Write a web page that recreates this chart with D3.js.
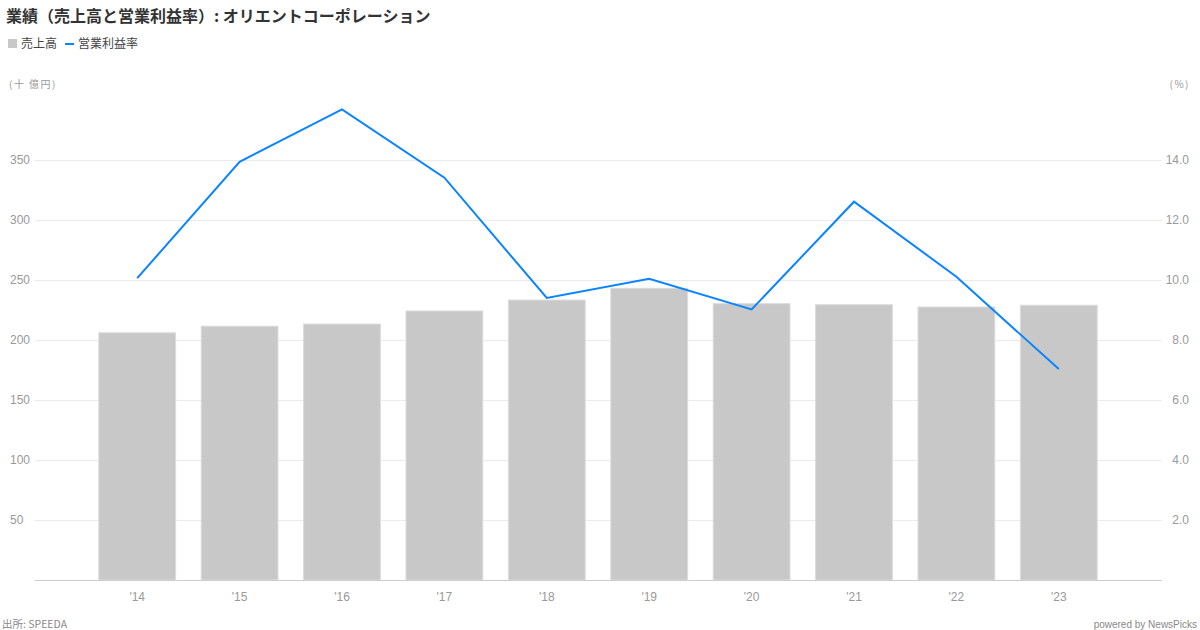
<!DOCTYPE html>
<html><head><meta charset="utf-8">
<script src="https://cdn.jsdelivr.net/npm/d3@7"></script>
<style>
body{margin:0;background:#fff;}
svg text{font-family:"Liberation Sans","Noto Sans CJK JP",sans-serif;}
.jp{font-family:"Noto Sans CJK JP","Liberation Sans",sans-serif;}
</style></head>
<body><svg id="c" width="1200" height="630"></svg>
<script>
const categories = ["'14","'15","'16","'17","'18","'19","'20","'21","'22","'23"];
const sales = [206, 211.5, 213.3, 224.2, 233.3, 243.1, 230.3, 229.4, 227.5, 229];
const margin = [10.06, 13.94, 15.69, 13.41, 9.4, 10.04, 9.02, 12.61, 10.11, 7.03];
const leftTicks = [50,100,150,200,250,300,350];
const rightTicks = [2,4,6,8,10,12,14];

const svg = d3.select("#c");
const x = d3.scaleBand().domain(categories).range([86,1110]).paddingInner(0.25).paddingOuter(0.125);
const yL = d3.scaleLinear().domain([0,400]).range([580,100]);
const yR = d3.scaleLinear().domain([0,16]).range([580,100]);

// gridlines
svg.append("g").selectAll("line").data(leftTicks).join("line")
  .attr("x1",35).attr("x2",1162).attr("y1",d=>yL(d)).attr("y2",d=>yL(d))
  .attr("stroke","#ebebeb").attr("stroke-width",1).attr("shape-rendering","crispEdges");

// bars
svg.append("g").selectAll("rect").data(sales).join("rect")
  .attr("x",(d,i)=>x(categories[i])).attr("width",x.bandwidth())
  .attr("y",d=>yL(d)).attr("height",d=>yL(0)-yL(d))
  .attr("fill","#c8c8c8").attr("stroke","#dcdcdc").attr("stroke-width",1);

// baseline
svg.append("line").attr("x1",35).attr("x2",1162).attr("y1",580.5).attr("y2",580.5)
  .attr("stroke","#cccccc").attr("stroke-width",1);

// line
const line = d3.line().x((d,i)=>x(categories[i])+x.bandwidth()/2).y(d=>yR(d));
svg.append("path").datum(margin).attr("d",line).attr("fill","none")
  .attr("stroke","#0a84ff").attr("stroke-width",2).attr("stroke-linejoin","miter");

// left axis labels
svg.append("g").selectAll("text").data(leftTicks).join("text")
  .attr("x",10).attr("y",d=>yL(d)+4).attr("font-size",12).attr("fill","#999")
  .text(d=>d);
// right axis labels
svg.append("g").selectAll("text").data(rightTicks).join("text")
  .attr("x",1189).attr("y",d=>yR(d)+4).attr("font-size",12).attr("fill","#999")
  .attr("text-anchor","end").text(d=>d3.format(".1f")(d));

// x labels
svg.append("g").selectAll("text").data(categories).join("text")
  .attr("x",d=>x(d)+x.bandwidth()/2).attr("y",601).attr("font-size",12).attr("fill","#999")
  .attr("text-anchor","middle").text(d=>d);

// title
svg.append("text").attr("class","jp").attr("x",6).attr("y",22).attr("font-size",16)
  .attr("font-weight","bold").attr("fill","#333").text("業績（売上高と営業利益率）: オリエントコーポレーション");

// legend
svg.append("rect").attr("x",8).attr("y",39).attr("width",9).attr("height",9).attr("fill","#c8c8c8");
svg.append("text").attr("class","jp").attr("x",21).attr("y",48).attr("font-size",12).attr("fill","#444").text("売上高");
svg.append("line").attr("x1",65).attr("x2",74).attr("y1",44).attr("y2",44).attr("stroke","#0a84ff").attr("stroke-width",2);
svg.append("text").attr("class","jp").attr("x",78).attr("y",48).attr("font-size",12).attr("fill","#444").text("営業利益率");

// units
svg.append("text").attr("class","jp").attr("x",9).attr("y",88).attr("font-size",10).attr("fill","#999")
  .attr("letter-spacing",1.5).text("(十 億円)");
svg.append("text").attr("class","jp").attr("x",1190).attr("y",88).attr("font-size",10).attr("fill","#999")
  .attr("text-anchor","end").attr("letter-spacing",1.5).text("(%)");

// footer
svg.append("text").attr("class","jp").attr("x",2).attr("y",628).attr("font-size",10.5).attr("fill","#888").text("出所: SPEEDA");
svg.append("text").attr("x",1197).attr("y",628).attr("font-size",10).attr("fill","#888").attr("text-anchor","end").text("powered by NewsPicks");
</script></body></html>
